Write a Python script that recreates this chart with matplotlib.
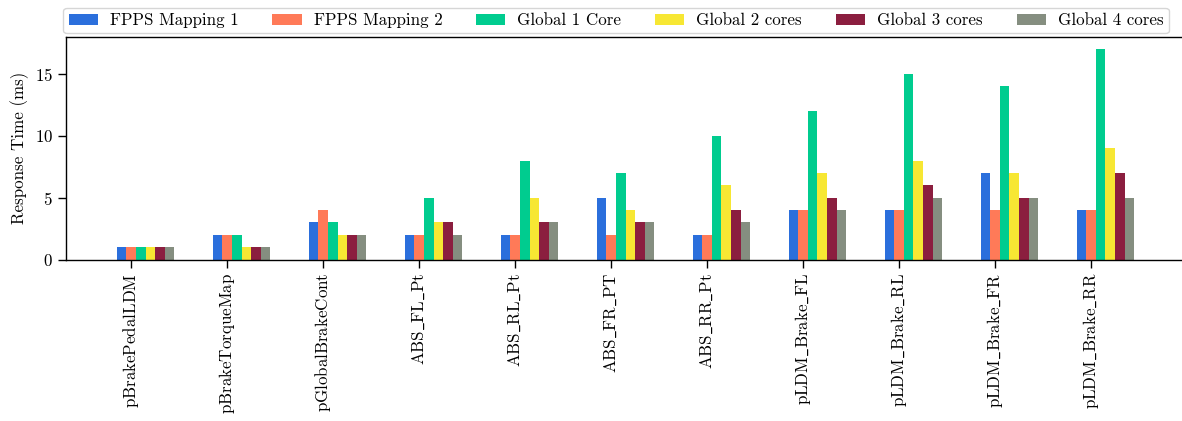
import matplotlib
matplotlib.use('Agg')
import matplotlib.pyplot as plt
import numpy as np

plt.rcParams['font.family'] = ['cmr10', 'DejaVu Serif']
plt.rcParams['axes.formatter.use_mathtext'] = True
plt.rcParams['mathtext.fontset'] = 'cm'

tasks = ['pBrakePedalLDM', 'pBrakeTorqueMap', 'pGlobalBrakeCont', 'ABS_FL_Pt',
         'ABS_RL_Pt', 'ABS_FR_PT', 'ABS_RR_Pt', 'pLDM_Brake_FL',
         'pLDM_Brake_RL', 'pLDM_Brake_FR', 'pLDM_Brake_RR']
series_names = ['FPPS Mapping 1', 'FPPS Mapping 2', 'Global 1 Core',
                'Global 2 cores', 'Global 3 cores', 'Global 4 cores']
fpps_1 = [1, 2, 3, 2, 2, 5, 2, 4, 4, 7, 4]
fpps_2 = [1, 2, 4, 2, 2, 2, 2, 4, 4, 4, 4]
global_1 = [1, 2, 3, 5, 8, 7, 10, 12, 15, 14, 17]
global_2 = [1, 1, 2, 3, 5, 4, 6, 7, 8, 7, 9]
global_3 = [1, 1, 2, 3, 3, 3, 4, 5, 6, 5, 7]
global_4 = [1, 1, 2, 2, 3, 3, 3, 4, 5, 5, 5]
colors = ['#2b6fdc', '#ff7a58', '#00cc8f', '#f7e733', '#8b1e3f', '#858e80']

fs = 12.2
fig = plt.figure(figsize=(11.82, 4.21), dpi=100)
ax = fig.add_axes([66 / 1182, 1 - 259.5 / 421, 1119 / 1182, 222.5 / 421])

x = np.arange(len(tasks))
w = 0.1
for i, (vals, name) in enumerate(zip([fpps_1, fpps_2, global_1, global_2, global_3, global_4],
                                     series_names)):
    ax.bar(x + (i - 1) * w, vals, w, color=colors[i], label=name, align='center')

# underscores via mathtext, cmr10 has no plain "_"
labels = [r'$\mathrm{' + t.replace('_', r'\_') + '}$' for t in tasks]

ax.set_ylim(0, 18)
ax.set_yticks([0, 5, 10, 15])
ax.set_xticks(x)
ax.set_xticklabels(labels, rotation=90, fontsize=fs)
ax.tick_params(axis='y', labelsize=fs, length=6, width=1)
ax.tick_params(axis='x', length=6, width=1)
ax.set_ylabel('Response Time (ms)', fontsize=fs)
ax.spines['right'].set_visible(False)
for s in ['top', 'bottom', 'left']:
    ax.spines[s].set_linewidth(1.0)

ax.legend(loc='lower center', bbox_to_anchor=((616 - 66) / 1119, 1.0), ncol=6,
          fontsize=fs, frameon=True, edgecolor='#cccccc', fancybox=True,
          handlelength=1.72, handleheight=0.6, handletextpad=0.71,
          columnspacing=2.0, borderpad=0.3, borderaxespad=0.22)

fig.savefig('out.png', dpi=100)
